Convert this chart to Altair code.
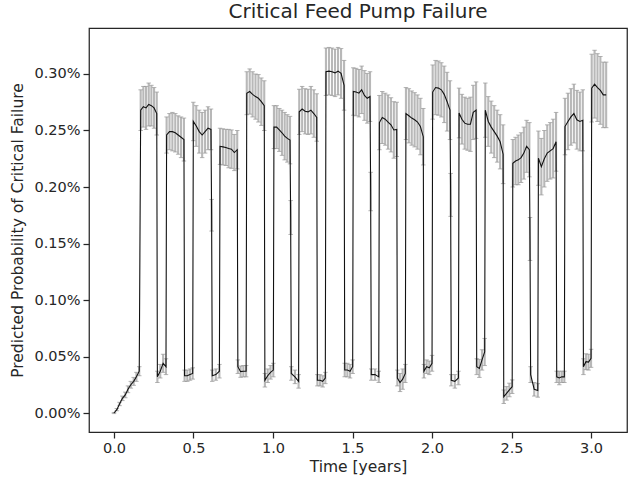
import altair as alt
import pandas as pd

# ---- data (probabilities in %) ----
# initial ramp
ramp_t = [0.000, 0.018, 0.035, 0.053, 0.071, 0.088, 0.106, 0.124, 0.141, 0.159]
ramp_p = [0.000, 0.003, 0.008, 0.013, 0.016, 0.021, 0.025, 0.028, 0.032, 0.037]
ramp_e = [0.0005, 0.001, 0.0015, 0.002, 0.0025, 0.003, 0.003, 0.0035, 0.004, 0.004]

# start / end (years) of each high-probability phase
high_start = [0.168, 0.331, 0.499, 0.667, 0.835, 1.006, 1.165, 1.333, 1.505,
              1.669, 1.836, 2.004, 2.170, 2.335, 2.508, 2.669, 2.836, 3.004]
high_end = [0.269, 0.440, 0.610, 0.775, 0.945, 1.107, 1.275, 1.447, 1.610,
            1.778, 1.945, 2.113, 2.277, 2.447, 2.612, 2.780, 2.948, 3.095]

high_p = [
    [0.268, 0.271, 0.270, 0.273, 0.272, 0.270, 0.265],
    [0.246, 0.249, 0.249, 0.248, 0.246, 0.244, 0.242],
    [0.258, 0.254, 0.249, 0.246, 0.249, 0.252, 0.251],
    [0.236, 0.2355, 0.235, 0.234, 0.2335, 0.2305, 0.233],
    [0.283, 0.2845, 0.282, 0.280, 0.2785, 0.2755, 0.272],
    [0.253, 0.253, 0.2505, 0.248, 0.245, 0.243, 0.2415],
    [0.2665, 0.269, 0.267, 0.2665, 0.268, 0.265, 0.2615],
    [0.302, 0.3025, 0.302, 0.301, 0.3025, 0.3005, 0.290],
    [0.2845, 0.284, 0.283, 0.286, 0.281, 0.2785, 0.280],
    [0.257, 0.2615, 0.260, 0.2575, 0.255, 0.2505, 0.251],
    [0.265, 0.263, 0.261, 0.2595, 0.2575, 0.2535, 0.2445],
    [0.284, 0.288, 0.2875, 0.286, 0.282, 0.2755, 0.268],
    [0.2655, 0.260, 0.2565, 0.2555, 0.2555, 0.266, 0.268],
    [0.268, 0.258, 0.253, 0.249, 0.245, 0.240, 0.229],
    [0.221, 0.223, 0.224, 0.226, 0.230, 0.236, 0.233],
    [0.2255, 0.218, 0.225, 0.230, 0.232, 0.234, 0.240],
    [0.2535, 0.258, 0.262, 0.265, 0.2595, 0.258, 0.259],
    [0.2875, 0.291, 0.288, 0.2855, 0.2815, 0.2815],
]
high_e = [
    [0.018, 0.018, 0.019, 0.019, 0.018, 0.018, 0.019],
    [0.016, 0.016, 0.017, 0.017, 0.017, 0.018, 0.019],
    [0.017, 0.018, 0.019, 0.020, 0.019, 0.019, 0.018],
    [0.016, 0.016, 0.016, 0.017, 0.017, 0.016, 0.017],
    [0.019, 0.020, 0.020, 0.020, 0.021, 0.021, 0.022],
    [0.019, 0.019, 0.019, 0.020, 0.021, 0.021, 0.021],
    [0.020, 0.020, 0.020, 0.020, 0.021, 0.021, 0.021],
    [0.021, 0.021, 0.021, 0.021, 0.021, 0.022, 0.022],
    [0.021, 0.021, 0.021, 0.021, 0.022, 0.022, 0.022],
    [0.024, 0.023, 0.023, 0.024, 0.024, 0.025, 0.024],
    [0.023, 0.024, 0.024, 0.024, 0.024, 0.025, 0.025],
    [0.024, 0.024, 0.024, 0.024, 0.025, 0.026, 0.026],
    [0.022, 0.022, 0.023, 0.023, 0.024, 0.024, 0.025],
    [0.024, 0.022, 0.023, 0.023, 0.023, 0.024, 0.026],
    [0.021, 0.021, 0.022, 0.022, 0.023, 0.023, 0.024],
    [0.024, 0.025, 0.025, 0.025, 0.025, 0.026, 0.026],
    [0.025, 0.025, 0.025, 0.026, 0.026, 0.026, 0.027],
    [0.030, 0.030, 0.030, 0.030, 0.029, 0.029],
]

# low-probability phases between the high ones
low_p = [
    [0.032, 0.037, 0.044, 0.041],
    [0.033, 0.033, 0.034, 0.035],
    [0.033, 0.034, 0.037],
    [0.041, 0.0366, 0.037, 0.037],
    [0.029, 0.033, 0.036, 0.038],
    [0.035, 0.032, 0.028],
    [0.029, 0.029, 0.028, 0.031],
    [0.038, 0.038, 0.037, 0.041],
    [0.034, 0.034, 0.032],
    [0.031, 0.027, 0.030, 0.035],
    [0.037, 0.041, 0.040, 0.044],
    [0.029, 0.028, 0.031],
    [0.041, 0.0395, 0.047, 0.054],
    [0.0144, 0.0174, 0.0204, 0.0233],
    [0.034, 0.021, 0.020],
    [0.032, 0.031, 0.032, 0.032],
    [0.041, 0.0454, 0.045, 0.0484],
]
low_e = [
    [0.005, 0.006, 0.008, 0.007],
    [0.005, 0.005, 0.005, 0.005],
    [0.005, 0.005, 0.006],
    [0.006, 0.005, 0.005, 0.005],
    [0.006, 0.006, 0.006, 0.006],
    [0.006, 0.006, 0.006],
    [0.005, 0.005, 0.005, 0.005],
    [0.006, 0.006, 0.006, 0.006],
    [0.005, 0.005, 0.005],
    [0.007, 0.008, 0.009, 0.008],
    [0.006, 0.006, 0.006, 0.007],
    [0.005, 0.006, 0.006],
    [0.007, 0.008, 0.009, 0.012],
    [0.006, 0.006, 0.006, 0.006],
    [0.007, 0.006, 0.006],
    [0.005, 0.006, 0.005, 0.005],
    [0.007, 0.007, 0.007, 0.008],
]

# single points caught half-way through a drop (high phase number, value, error)
mid_phase = [3, 6, 9, 12, 15]
mid_p = [0.175, 0.173, 0.196, 0.193, 0.154]
mid_e = [0.014, 0.015, 0.017, 0.019, 0.019]

x_ticks = [0.0, 0.5, 1.0, 1.5, 2.0, 2.5, 3.0]
y_ticks = [0.00, 0.05, 0.10, 0.15, 0.20, 0.25, 0.30]

# ---- assemble the table ----
rows = [(t, p, e) for t, p, e in zip(ramp_t, ramp_p, ramp_e)]
gap = 0.004
for k in range(len(high_start)):
    hs, he = high_start[k], high_end[k]
    vals, errs = high_p[k], high_e[k]
    n = len(vals)
    for i in range(n):
        rows.append((hs + (he - hs) * i / (n - 1), vals[i], errs[i]))
    if k < len(low_p):
        lo_start = he + gap
        if (k + 1) in mid_phase:
            j = mid_phase.index(k + 1)
            rows.append((he + gap, mid_p[j], mid_e[j]))
            lo_start = he + 2 * gap
        lo_end = high_start[k + 1] - gap
        lv, le = low_p[k], low_e[k]
        m = len(lv)
        for i in range(m):
            rows.append((lo_start + (lo_end - lo_start) * i / (m - 1), lv[i], le[i]))

df = pd.DataFrame(rows, columns=["t", "p", "e"])
df["lo"] = df["p"] - df["e"]
df["hi"] = df["p"] + df["e"]
df["order"] = range(len(df))

FONT = "DejaVu Sans"
INK = "#262626"

xscale = alt.Scale(domain=[-0.157, 3.226], nice=False, zero=False)
yscale = alt.Scale(domain=[-0.0168, 0.3407], nice=False, zero=False)

xaxis = alt.Axis(values=x_ticks, format=".1f", title="Time [years]")
yaxis = alt.Axis(values=y_ticks, title="Predicted Probability of Critical Failure",
                 labelExpr="format(datum.value, '.2f') + '%'")

base = alt.Chart(df)

bars = base.mark_rule(color="#b8b8b8", strokeWidth=2.1).encode(
    x=alt.X("t:Q", scale=xscale, axis=xaxis),
    y=alt.Y("lo:Q", scale=yscale, axis=yaxis),
    y2="hi:Q",
)
cap_hi = base.mark_tick(orient="horizontal", color="#959595", size=4.5, thickness=1).encode(
    x=alt.X("t:Q", scale=xscale), y=alt.Y("hi:Q", scale=yscale)
)
cap_lo = base.mark_tick(orient="horizontal", color="#959595", size=4.5, thickness=1).encode(
    x=alt.X("t:Q", scale=xscale), y=alt.Y("lo:Q", scale=yscale)
)
line = base.mark_line(color="#111111", strokeWidth=1.1).encode(
    x=alt.X("t:Q", scale=xscale), y=alt.Y("p:Q", scale=yscale),
    order="order:Q",
)

chart = (
    alt.layer(bars, cap_hi, cap_lo, line)
    .properties(
        width=538,
        height=404,
        title=alt.TitleParams("Critical Feed Pump Failure", fontSize=20, font=FONT,
                              fontWeight="normal", color=INK, anchor="middle", offset=6),
        autosize=alt.AutoSizeParams(type="none"),
        padding={"left": 89, "top": 28, "right": 1, "bottom": 51},
    )
    .configure_view(stroke=INK, strokeWidth=1.25)
    .configure_axis(
        domain=False, grid=False,
        tickColor=INK, tickWidth=1.25, tickSize=6,
        labelFont=FONT, labelFontSize=14.5, labelColor=INK, labelPadding=3,
        titleFont=FONT, titleFontSize=15.5, titleFontWeight="normal", titleColor=INK,
    )
    .configure_axisY(titlePadding=8)
    .configure_axisX(titlePadding=5)
)

chart.save("out.html", embed_options={"renderer": "svg", "actions": False})
